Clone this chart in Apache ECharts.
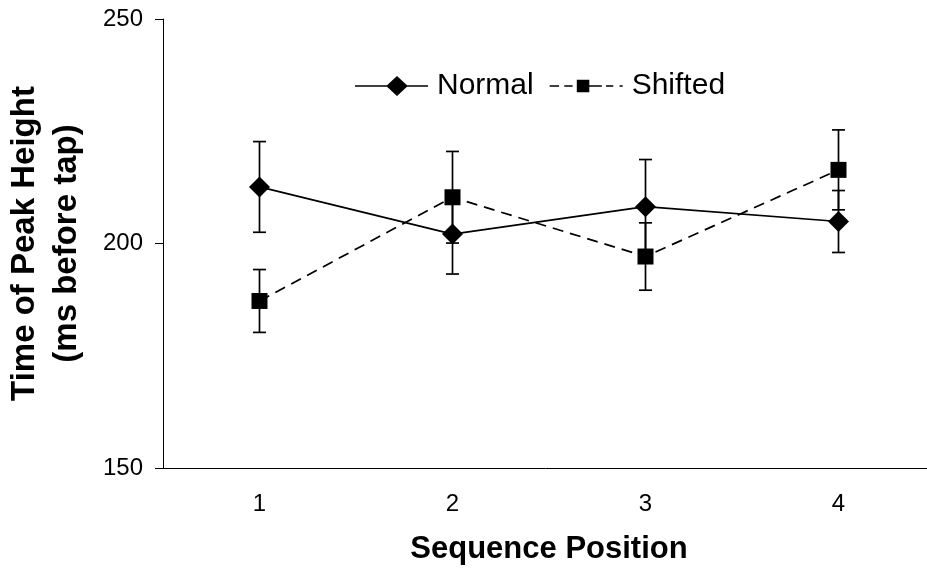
<!DOCTYPE html>
<html>
<head>
<meta charset="utf-8">
<script src="https://cdn.jsdelivr.net/npm/echarts@6/dist/echarts.min.js"></script>
<style>
html,body{margin:0;padding:0;background:#fff;}
#chart{width:927px;height:580px;}
</style>
</head>
<body>
<div id="chart"></div>
<script>
const categories = ['1', '2', '3', '4'];
const normalValues = [212.6, 202.1, 208.2, 204.9];
const normalErrors = [10.1, 8.9, 10.5, 6.9];
const shiftedValues = [187.2, 210.3, 197.1, 216.4];
const shiftedErrors = [7.0, 10.2, 7.5, 8.9];
const yTicks = [150, 200, 250];

const FONT = '"Liberation Sans", Arial, sans-serif';

// legend icons (line + marker), drawn as filled paths
const normalIcon = 'path://M0 9.2L32 9.2L42 0L52 9.2L73 9.2L73 10.8L52 10.8L42 20L32 10.8L0 10.8Z';
const shiftedIcon = 'path://M0 5.2L9 5.2L9 6.8L0 6.8Z' +
  'M14 5.2L22 5.2L22 6.8L14 6.8Z' +
  'M26 0L38 0L38 5.2L50 5.2L50 6.8L38 6.8L38 12L26 12Z' +
  'M54 5.2L61 5.2L61 6.8L54 6.8Z' +
  'M67 5.2L70 5.2L70 6.8L67 6.8Z';

function errData(vals, errs) {
  return vals.map((v, i) => [i, v - errs[i], v + errs[i]]);
}

function errorRender(params, api) {
  const x = api.value(0);
  const lo = api.coord([x, api.value(1)]);
  const hi = api.coord([x, api.value(2)]);
  const cw = 6.5;
  const style = { stroke: '#000', lineWidth: 1.7 };
  return {
    type: 'group',
    children: [
      { type: 'line', shape: { x1: hi[0], y1: hi[1], x2: lo[0], y2: lo[1] }, style: style },
      { type: 'line', shape: { x1: hi[0] - cw, y1: hi[1], x2: hi[0] + cw, y2: hi[1] }, style: style },
      { type: 'line', shape: { x1: lo[0] - cw, y1: lo[1], x2: lo[0] + cw, y2: lo[1] }, style: style }
    ]
  };
}

const chart = echarts.init(document.getElementById('chart'));
chart.setOption({
  animation: false,
  backgroundColor: '#fff',
  textStyle: { fontFamily: FONT, color: '#000' },
  grid: { left: 163, top: 19, bottom: 112, right: -8, outerBoundsMode: 'none', containLabel: false },
  legend: {
    left: 350, top: 66,
    itemWidth: 73, itemHeight: 20, itemGap: 16,
    symbolKeepAspect: true,
    textStyle: { fontSize: 30, fontFamily: FONT, color: '#000', padding: [0, 0, 0, 4] },
    data: [
      { name: 'Normal', icon: normalIcon },
      { name: 'Shifted', icon: shiftedIcon }
    ]
  },
  xAxis: {
    type: 'category',
    data: categories,
    boundaryGap: true,
    axisLine: { lineStyle: { color: '#000', width: 1 } },
    axisTick: { show: false },
    axisLabel: { fontSize: 24, color: '#000', margin: 24, fontFamily: FONT },
    name: 'Sequence Position',
    nameLocation: 'middle',
    nameGap: 66,
    nameTextStyle: { fontSize: 31, fontWeight: 'bold', color: '#000', fontFamily: FONT }
  },
  yAxis: {
    type: 'value',
    min: yTicks[0], max: yTicks[yTicks.length - 1], interval: 50,
    splitLine: { show: false },
    axisLine: { show: true, lineStyle: { color: '#000', width: 1 } },
    axisTick: { show: true, inside: false, length: 8, lineStyle: { color: '#000' } },
    axisLabel: { fontSize: 24, color: '#000', margin: 20, fontFamily: FONT },
    name: 'Time of Peak Height\n(ms before tap)',
    nameLocation: 'middle',
    nameGap: 75,
    nameTextStyle: { fontSize: 33, fontWeight: 'bold', color: '#000', lineHeight: 42, fontFamily: FONT }
  },
  series: [
    {
      name: 'NormalErr', type: 'custom', renderItem: errorRender,
      data: errData(normalValues, normalErrors), z: 1, silent: true
    },
    {
      name: 'ShiftedErr', type: 'custom', renderItem: errorRender,
      data: errData(shiftedValues, shiftedErrors), z: 1, silent: true
    },
    {
      name: 'Normal', type: 'line', data: normalValues, z: 3,
      symbol: 'diamond', symbolSize: 21,
      itemStyle: { color: '#000' },
      lineStyle: { color: '#000', width: 1.7, type: 'solid' }
    },
    {
      name: 'Shifted', type: 'line', data: shiftedValues, z: 3,
      symbol: 'rect', symbolSize: 16,
      itemStyle: { color: '#000' },
      lineStyle: { color: '#000', width: 1.7, type: [11, 7] }
    }
  ]
});
</script>
</body>
</html>
